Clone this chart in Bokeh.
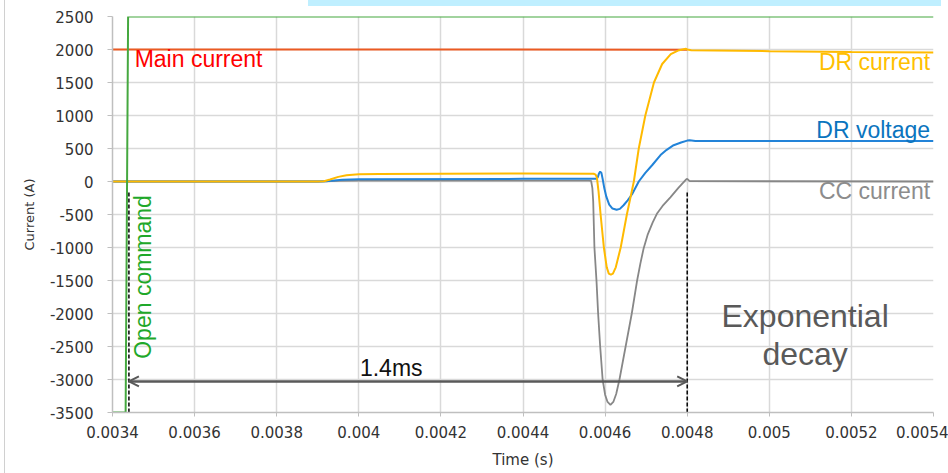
from bokeh.plotting import figure
from bokeh.models import FixedTicker, Arrow, OpenHead, Range1d, Div
from bokeh.layouts import column, row
from bokeh.core.properties import value
from bokeh.embed import file_html
from bokeh.resources import INLINE

# ---------------- data ----------------
x_ticks = [0.0034, 0.0036, 0.0038, 0.0040, 0.0042, 0.0044, 0.0046, 0.0048, 0.0050, 0.0052, 0.0054]
x_tick_labels = ["0.0034", "0.0036", "0.0038", "0.004", "0.0042", "0.0044", "0.0046", "0.0048", "0.005", "0.0052", "0.0054"]
y_ticks = [-3500, -3000, -2500, -2000, -1500, -1000, -500, 0, 500, 1000, 1500, 2000, 2500]
y_tick_labels = ["-3500", "-3000", "-2500", "-2000", "-1500", "-1000", "-500", "0", "500", "1000", "1500", "2000", "2500"]

# Open command (green step)
cmd_t = [0.0034, 0.003432, 0.003438, 0.0054]
cmd_v = [-3500, -3500, 2500, 2500]

# Main current
main_t = [0.0034, 0.0042, 0.0048]
main_v = [2000, 2000, 1998]

# DR current
drc_t = [0.0034, 0.00390, 0.003915, 0.00393, 0.00395, 0.00397, 0.00400, 0.00405, 0.0042, 0.0044,
         0.004572, 0.004577, 0.004580, 0.004584, 0.004589, 0.004597, 0.004604, 0.004609, 0.004614,
         0.004619, 0.004626, 0.004638, 0.004653, 0.004670, 0.004682, 0.004698, 0.004719, 0.004739,
         0.004760, 0.004780, 0.004797, 0.004800, 0.004810, 0.0050, 0.0052, 0.0054]
drc_v = [0, 0, 5, 30, 70, 95, 110, 115, 118, 120,
         118, 105, 60, -150, -500, -1000, -1300, -1395, -1413,
         -1395, -1300, -1000, -500, 0, 500, 1000, 1500, 1780,
         1930, 1990, 2010, 2000, 1990, 1975, 1962, 1955]

# DR voltage
drv_t = [0.0034, 0.00390, 0.00392, 0.00396, 0.00400, 0.0044, 0.004578, 0.004582, 0.004585, 0.004588,
         0.004591, 0.004594, 0.004598, 0.004603, 0.004610, 0.004618, 0.004628, 0.004636, 0.004645,
         0.004655, 0.004666, 0.004682, 0.004698, 0.004715, 0.004735, 0.004750, 0.004767, 0.004785,
         0.004800, 0.004806, 0.004820, 0.0050, 0.0054]
drv_v = [0, 0, 5, 25, 35, 40, 40, 60, 120, 150,
         130, 40, -100, -230, -350, -410, -428, -415, -360,
         -285, -190, 0, 130, 250, 400, 480, 550, 590,
         620, 625, 612, 615, 612]

# CC current
cc_t = [0.0034, 0.0039, 0.00395, 0.0040, 0.00456, 0.004566, 0.004569, 0.004571, 0.004574, 0.004579,
        0.004583, 0.004588, 0.004594, 0.004600, 0.004606, 0.004613, 0.004620, 0.004627, 0.004635,
        0.004650, 0.004665, 0.004678, 0.004686, 0.004694, 0.004704, 0.004716, 0.004727, 0.004740,
        0.004759, 0.004778, 0.004797, 0.004800, 0.004806, 0.0054]
cc_v = [0, 0, 10, 12, 12, 8, -100, -300, -1000, -1500,
        -2000, -2500, -3000, -3230, -3340, -3383, -3340, -3220, -3000,
        -2500, -2000, -1500, -1240, -1010, -800, -620, -480, -370,
        -240, -100, 30, 40, 5, 0]

# annotation values
t_open = 0.00344
t_end = 0.0048
marker_top = -167
arrow_y = -3030

# ---------------- figure ----------------
p = figure(width=943, height=467, output_backend="svg", toolbar_location=None,
           x_range=Range1d(0.0034, 0.0054), y_range=Range1d(-3500, 2500),
           min_border_left=107, min_border_right=15, min_border_top=10, min_border_bottom=61)
p.outline_line_color = None
p.background_fill_color = "white"
p.border_fill_color = "white"

tick_font = "DejaVu Sans"
p.xaxis.ticker = FixedTicker(ticks=x_ticks)
p.yaxis.ticker = FixedTicker(ticks=y_ticks)
p.xaxis.major_label_overrides = {t: s for t, s in zip(x_ticks, x_tick_labels)}
p.yaxis.major_label_overrides = {t: s for t, s in zip(y_ticks, y_tick_labels)}
for ax in (p.xaxis[0], p.yaxis[0]):
    ax.axis_line_color = "#BFBFBF"
    ax.axis_line_width = 1.5
    ax.major_tick_line_color = "#BFBFBF"
    ax.minor_tick_line_color = None
    ax.major_tick_in = 0
    ax.major_label_text_font = tick_font
    ax.major_label_text_font_size = "15px"
    ax.major_label_text_color = "#333333"
    ax.axis_label_text_font = tick_font
    ax.axis_label_text_font_style = "normal"
    ax.axis_label_text_color = "#333333"
p.xaxis.major_tick_out = 4
p.yaxis.major_tick_out = 5
p.xaxis.major_label_standoff = 9
p.yaxis.major_label_standoff = 14
p.xaxis.axis_label = "Time (s)"
p.yaxis.axis_label = "Current (A)"
p.xaxis.axis_label_text_font_size = "15px"
p.yaxis.axis_label_text_font_size = "13px"
p.xaxis.axis_label_standoff = 10
p.yaxis.axis_label_standoff = 10

p.xgrid.ticker = FixedTicker(ticks=x_ticks)
p.ygrid.ticker = FixedTicker(ticks=y_ticks)
for g in (p.xgrid[0], p.ygrid[0]):
    g.grid_line_color = "#D9D9D9"
    g.grid_line_width = 1.5

# ---------------- series ----------------
p.line(main_t, main_v, line_color="#EB5A22", line_width=2)
p.line(cc_t, cc_v, line_color="#878787", line_width=1.8)
p.line(drv_t, drv_v, line_color="#2283D8", line_width=2)
p.line(drc_t, drc_v, line_color="#FFBA00", line_width=2)
p.line(cmd_t, cmd_v, line_color="#45A83F", line_width=2)

# markers & arrow
p.segment(x0=[t_open, t_end], y0=[marker_top, marker_top], x1=[t_open, t_end], y1=[-3500, -3500],
          line_color="black", line_width=1.5, line_dash="4 2")
p.add_layout(Arrow(start=OpenHead(size=10, line_color="#595959", line_width=2),
                   end=OpenHead(size=10, line_color="#595959", line_width=2),
                   x_start=t_open, y_start=arrow_y, x_end=t_end, y_end=arrow_y,
                   line_color="#595959", line_width=2.5))

lab_font = value("Liberation Sans")
p.text(x=[0.003454], y=[1712], text=["Main current"], text_color="#FF0000", y_offset=-10,
       text_font=lab_font, text_font_size=value("23px"), text_align="left", text_baseline="alphabetic")
p.text(x=[0.0053917] * 3, y=[1662, 632, -292], text=["DR current", "DR voltage", "CC current"],
       text_color=["#FFC000", "#0A74BE", "#8C8C8C"], y_offset=-10,
       text_font=lab_font, text_font_size=value("23px"), text_align="right", text_baseline="alphabetic")
p.text(x=[0.0034976], y=[-2686], text=["Open command"], text_color="#1FA82A", angle=1.5707963,
       x_offset=-10, text_font=lab_font, text_font_size=value("23px"), text_align="left",
       text_baseline="alphabetic")
p.text(x=[0.004079], y=[-2970], text=["1.4ms"], text_color="#111111", y_offset=-10,
       text_font=lab_font, text_font_size=value("23px"), text_align="center", text_baseline="alphabetic")
p.text(x=[0.0050873, 0.0050873], y=[-2236, -2818], text=["Exponential", "decay"], text_color="#595959",
       y_offset=-13, text_font=lab_font, text_font_size=value("32px"), text_align="center",
       text_baseline="alphabetic")

# page decorations: light-blue strip at the top, grey frame line at the left
top_strip = Div(text="", width=633, height=6, margin=(0, 0, 0, 303),
                styles={"background-color": "#BFEFFF"})
left_line = Div(text="", width=1, height=473, margin=(0, 0, 0, 4),
                styles={"background-color": "#D0D0D0"})
layout = row(left_line, column(top_strip, p, spacing=0), spacing=0)

open("out.html", "w").write(file_html(layout, INLINE))
